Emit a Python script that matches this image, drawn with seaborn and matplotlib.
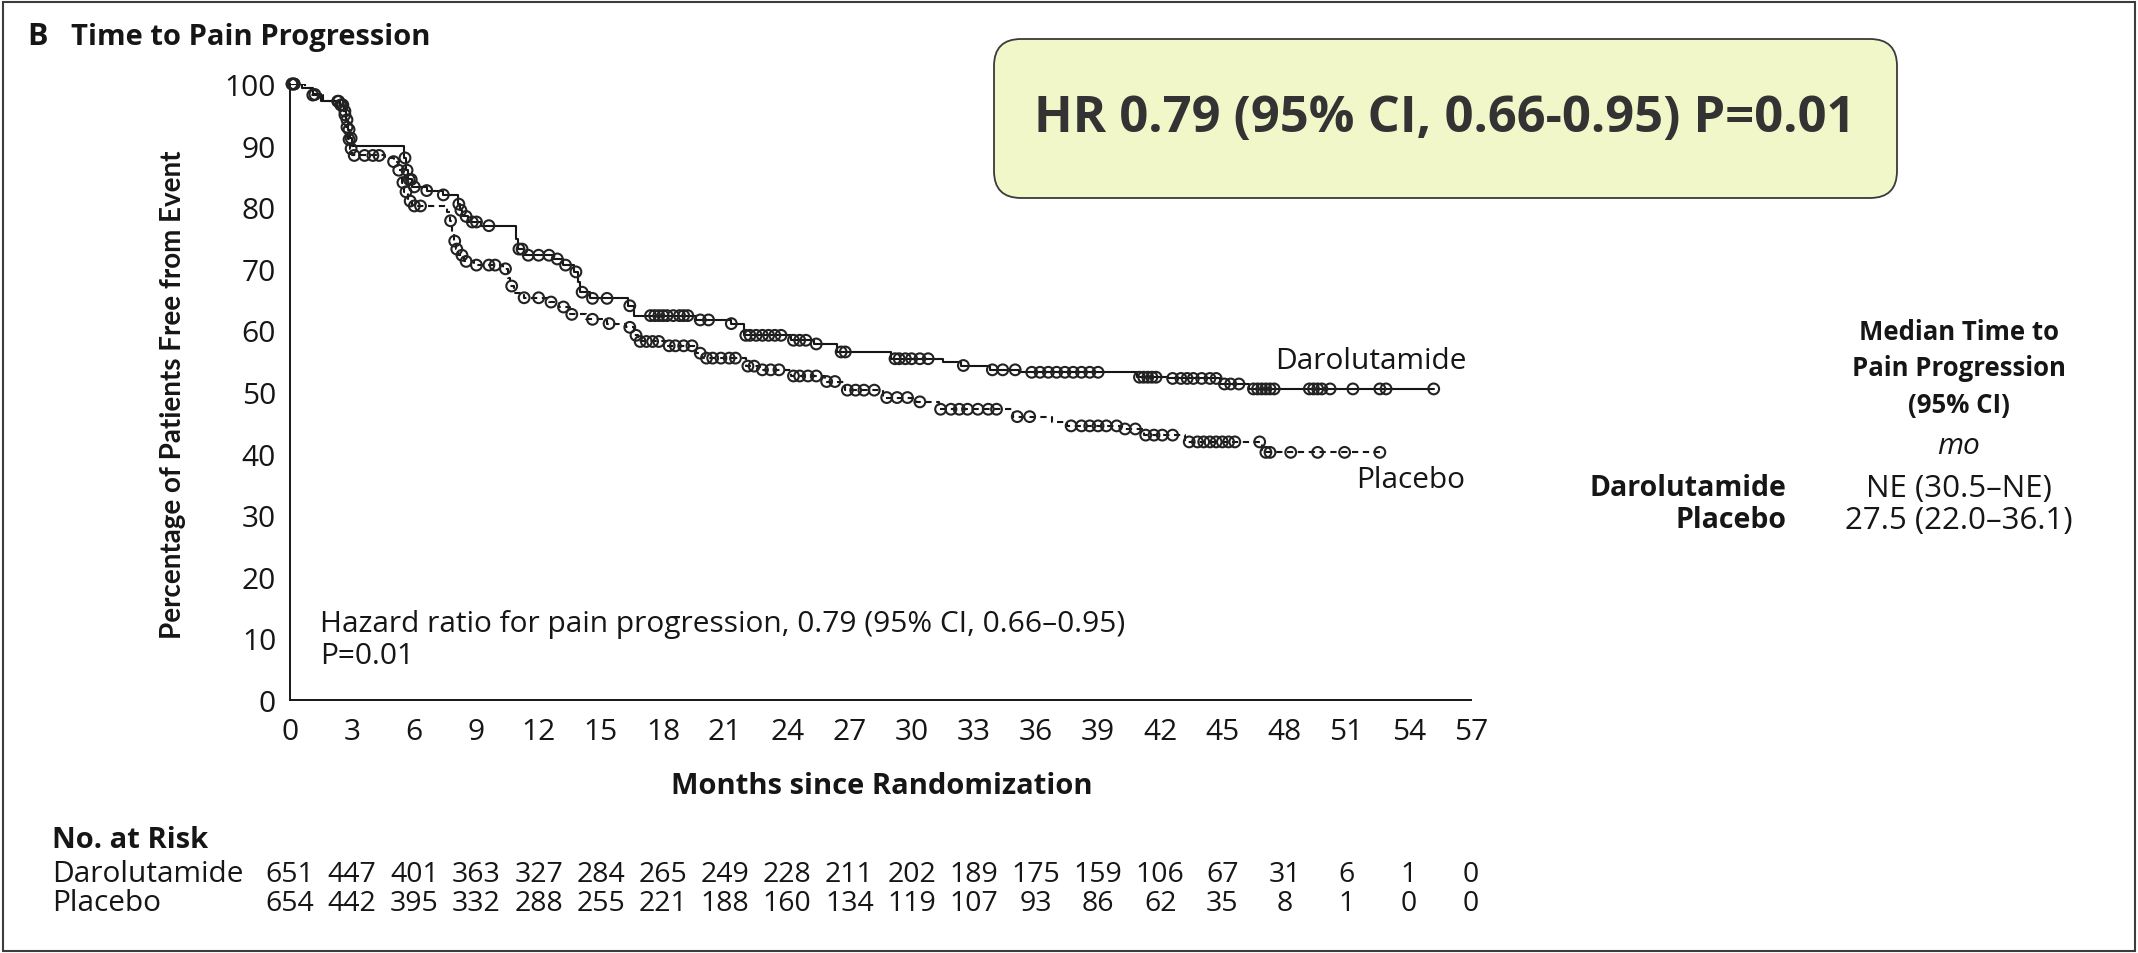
import numpy as np
import pandas as pd
import matplotlib
matplotlib.use("Agg")
import matplotlib.pyplot as plt
import matplotlib.transforms as mtransforms
from matplotlib.patches import FancyBboxPatch, Rectangle
import seaborn as sns

# ---- Kaplan-Meier steps (month, % free from event) ----
dar_times = [0, 0.6, 1.1, 1.5, 2.4, 2.6, 2.7, 2.8, 2.9, 3.0,
             5.5, 5.6, 5.7, 5.9, 6.6, 7.4, 8.1, 8.2, 8.3, 8.6, 9.2,
             10.9, 11.0, 11.3, 12.7, 13.2, 13.7, 13.9, 14.0, 14.5,
             16.3, 16.6, 19.6, 21.3, 21.9, 24.2, 25.3, 26.4, 29.0, 31.5,
             32.4, 33.8, 35.2, 40.9, 42.4, 44.9, 46.3]
dar_surv = [100, 99.4, 98.3, 97.2, 96.6, 95.6, 94.2, 92.6, 91.2, 90.0,
            88.0, 86.0, 84.5, 83.3, 82.7, 82.0, 80.5, 79.5, 78.5, 77.6, 77.0,
            74.8, 73.2, 72.2, 71.6, 70.6, 69.5, 67.8, 66.2, 65.2,
            64.0, 62.4, 61.7, 61.1, 59.2, 58.4, 57.8, 56.5, 55.4, 54.8,
            54.3, 53.6, 53.2, 52.4, 52.2, 51.3, 50.5]
dar_end = 55.2

pbo_times = [0, 0.7, 1.0, 1.6, 2.4, 2.6, 2.7, 2.8, 2.9, 3.0, 4.6, 5.0, 5.2,
             5.4, 5.5, 5.7, 5.9, 7.6, 7.7, 7.8, 7.9, 8.0, 8.1, 8.4, 8.9,
             10.3, 10.5, 10.6, 10.8, 11.3, 12.5, 13.0, 13.5, 14.3, 15.3,
             16.2, 16.6, 16.8, 18.2, 19.6, 19.9, 22.0, 22.7, 24.2, 25.8,
             26.8, 28.6, 30.2, 31.3, 34.9, 36.8, 37.5, 40.1, 41.2, 43.2, 46.9]
pbo_surv = [100, 99.3, 98.2, 97.2, 96.6, 95.0, 93.0, 91.0, 89.5, 88.4, 88.0,
            87.4, 86.0, 84.0, 82.5, 81.0, 80.2, 79.2, 77.8, 76.0, 74.5, 73.2,
            72.2, 71.2, 70.6, 70.0, 68.5, 67.2, 66.0, 65.3, 64.6, 63.8, 62.6,
            61.8, 61.1, 60.5, 59.2, 58.2, 57.5, 56.3, 55.5, 54.2, 53.6, 52.6,
            51.7, 50.3, 49.1, 48.4, 47.2, 46.0, 45.2, 44.5, 44.0, 43.0, 41.9,
            40.2]
pbo_end = 52.6

# ---- censoring times (months) ----
dar_cens = [0.1, 0.2, 1.2, 2.3, 2.45, 2.55, 2.65, 2.75, 2.85, 2.95,
            5.55, 5.65, 5.75, 5.85, 6.0, 6.6, 7.4, 8.15, 8.25, 8.5, 8.8,
            9.0, 9.6, 11.05, 11.2, 11.5, 12.0, 12.5, 12.9, 13.3, 13.8,
            14.1, 14.6, 15.3, 16.4, 17.4, 17.6, 17.8, 18.0, 18.2, 18.5,
            18.8, 19.0, 19.2, 19.8, 20.2, 21.3, 22.0, 22.2, 22.5, 22.8,
            23.1, 23.4, 23.7, 24.3, 24.6, 24.9, 25.4, 26.6, 26.8, 29.2,
            29.4, 29.7, 30.0, 30.4, 30.8, 32.5, 33.9, 34.4, 35.0, 35.8,
            36.2, 36.6, 37.0, 37.4, 37.8, 38.2, 38.6, 39.0, 41.0, 41.2,
            41.4, 41.6, 41.8, 42.6, 43.0, 43.3, 43.6, 44.0, 44.4, 44.7,
            45.1, 45.4, 45.8, 46.5, 46.7, 46.9, 47.1, 47.3, 47.5, 49.2,
            49.4, 49.6, 49.8, 50.2, 51.3, 52.6, 52.9, 55.2]
pbo_cens = [0.1, 0.2, 1.1, 2.35, 2.5, 2.65, 2.75, 2.85, 2.95, 3.1, 3.6,
            4.0, 4.3, 5.0, 5.25, 5.45, 5.6, 5.8, 6.0, 6.3, 7.75, 7.95,
            8.05, 8.3, 8.5, 9.0, 9.6, 9.9, 10.4, 10.7, 11.3, 12.0, 12.6,
            13.2, 13.6, 14.6, 15.4, 16.4, 16.7, 16.9, 17.2, 17.5, 17.8,
            18.3, 18.6, 19.0, 19.4, 19.8, 20.1, 20.4, 20.8, 21.2, 21.5,
            22.1, 22.4, 22.8, 23.2, 23.6, 24.3, 24.6, 25.0, 25.4, 25.9,
            26.3, 26.9, 27.3, 27.7, 28.2, 28.8, 29.3, 29.8, 30.4, 31.4,
            31.9, 32.3, 32.7, 33.2, 33.7, 34.1, 35.1, 35.7, 37.7, 38.2,
            38.6, 39.0, 39.4, 39.9, 40.3, 40.8, 41.3, 41.7, 42.1, 42.6,
            43.4, 43.8, 44.1, 44.4, 44.7, 45.0, 45.3, 45.6, 46.8, 47.1,
            47.3, 48.3, 49.6, 50.9, 52.6]

# ---- numbers at risk ----
risk_months = list(range(0, 58, 3))
risk_dar = [651, 447, 401, 363, 327, 284, 265, 249, 228, 211, 202, 189,
            175, 159, 106, 67, 31, 6, 1, 0]
risk_pbo = [654, 442, 395, 332, 288, 255, 221, 188, 160, 134, 119, 107,
            93, 86, 62, 35, 8, 1, 0, 0]

arms = ["Darolutamide", "Placebo"]
x_ticks = list(range(0, 58, 3))
y_ticks = list(range(0, 101, 10))

# ---- styling ----
sns.set_theme(style="white")
plt.rcParams["font.family"] = ["Open Sans", "DejaVu Sans"]
INK = "#161616"
FS = 21.5    # regular text
FSB = 21     # bold headings

W, H = 2138, 954
fig = plt.figure(figsize=(W / 100, H / 100), dpi=100)


def fx(px):
    return px / W


def fy(py):
    return 1 - py / H


ax = fig.add_axes([fx(290), fy(701), fx(1471) - fx(290), fy(85) - fy(701)])


def step_frame(times, surv, end, arm):
    t = list(times) + [end]
    s = list(surv) + [surv[-1]]
    return pd.DataFrame({"month": t, "pct": s, "arm": arm})


def surv_at(times, surv, t):
    idx = np.searchsorted(np.asarray(times), np.asarray(t), side="right") - 1
    return np.asarray(surv)[idx]


curves = {
    "Darolutamide": (dar_times, dar_surv, dar_end, dar_cens, "-"),
    "Placebo": (pbo_times, pbo_surv, pbo_end, pbo_cens, (0, (3.0, 2.2))),
}

for arm in arms:
    times, surv, end, cens, ls = curves[arm]
    df = step_frame(times, surv, end, arm)
    sns.lineplot(data=df, x="month", y="pct", ax=ax, estimator=None,
                 sort=False, drawstyle="steps-post", color=INK,
                 linewidth=1.5, linestyle=ls, legend=False)
    cdf = pd.DataFrame({"month": cens,
                        "pct": surv_at(times, surv, cens)})
    sns.scatterplot(data=cdf, x="month", y="pct", ax=ax, marker="o",
                    s=60, facecolor="none", edgecolor="#222222",
                    linewidth=1.5, legend=False, clip_on=False, zorder=3)

ax.set_xlim(0, 57)
ax.set_ylim(0, 100)
ax.set_xticks(x_ticks)
ax.set_yticks(y_ticks)
ax.set_xlabel("")
ax.set_ylabel("")
for side in ["top", "right"]:
    ax.spines[side].set_visible(False)
for side in ["left", "bottom"]:
    ax.spines[side].set_color(INK)
    ax.spines[side].set_linewidth(1.4)
ax.tick_params(axis="both", direction="out", length=8, width=1.4,
               color=INK, labelcolor=INK, labelsize=FS, pad=2)
ax.tick_params(axis="x", pad=4)
ax.set_facecolor("none")

# curve labels
ax.text(56.8, 55.1, "Darolutamide", ha="right", va="center",
        fontsize=FS, color=INK)
ax.text(56.7, 35.8, "Placebo", ha="right", va="center",
        fontsize=FS, color=INK)

# hazard ratio note
ax.text(1.45, 12.4, "Hazard ratio for pain progression, 0.79 (95% CI, 0.66\u20130.95)",
        ha="left", va="center", fontsize=FS, color=INK)
ax.text(1.45, 7.3, "P=0.01", ha="left", va="center", fontsize=FS, color=INK)

# axis titles
fig.text(fx(173), fy(395), "Percentage of Patients Free from Event",
         rotation=90, ha="center", va="center", fontsize=20,
         fontweight="bold", color=INK, family=["Lato", "DejaVu Sans"])
fig.text(fx(882), fy(787), "Months since Randomization", ha="center",
         va="center", fontsize=FSB, fontweight="bold", color=INK)

# panel title
fig.text(fx(27), fy(37), "B", ha="left", va="center", fontsize=22,
         fontweight="bold", color=INK)
fig.text(fx(71), fy(37), "Time to Pain Progression", ha="left",
         va="center", fontsize=FSB, fontweight="bold", color=INK)

# numbers at risk
fig.text(fx(52), fy(841), "No. at Risk", ha="left", va="center",
         fontsize=FSB, fontweight="bold", color=INK)
blend = mtransforms.blended_transform_factory(ax.transData, fig.transFigure)
for arm, vals, ypix in [("Darolutamide", risk_dar, 875),
                        ("Placebo", risk_pbo, 904)]:
    fig.text(fx(52), fy(ypix), arm, ha="left", va="center", fontsize=FS,
             color=INK)
    for m, v in zip(risk_months, vals):
        ax.text(m, fy(ypix), str(v), transform=blend, ha="center",
                va="center", fontsize=20.5, color=INK, clip_on=False)

# median table
for txt, ypix in [("Median Time to", 333), ("Pain Progression", 368),
                  ("(95% CI)", 405)]:
    fig.text(fx(1959), fy(ypix), txt, ha="center", va="center",
             fontsize=18.5, fontweight="bold", color=INK)
fig.text(fx(1959), fy(446), "mo", ha="center", va="center", fontsize=FS,
         style="italic", color=INK)
medians = ["NE (30.5\u2013NE)", "27.5 (22.0\u201336.1)"]
for arm, med, ypix in zip(arms, medians, [489, 521]):
    fig.text(fx(1786), fy(ypix), arm, ha="right", va="center", fontsize=20.5,
             fontweight="bold", color=INK)
    fig.text(fx(1959), fy(ypix), med, ha="center", va="center",
             fontsize=22.5, color=INK)

# highlighted hazard ratio box
box = FancyBboxPatch((9.94, (H - 199) / 100), 9.03, 1.59,
                     boxstyle="round,pad=0,rounding_size=0.27",
                     transform=fig.dpi_scale_trans, facecolor="#f2f7c9",
                     edgecolor="#3a3a3a", linewidth=1.3)
fig.patches.append(box)
fig.text(fx(1445), fy(119), "HR 0.79 (95% CI, 0.66-0.95) P=0.01",
         ha="center", va="center", fontsize=36.5, fontweight="bold",
         family=["Open Sans", "DejaVu Sans"], color="#333333")

# outer frame
fig.patches.append(Rectangle((0.0015, 0.002), 0.997, 0.995,
                             transform=fig.transFigure, fill=False,
                             edgecolor="#3c3c3c", linewidth=1.5))

fig.savefig("out.png", dpi=100)
